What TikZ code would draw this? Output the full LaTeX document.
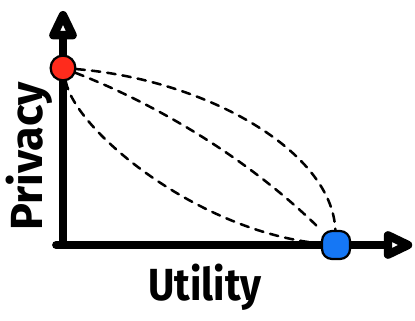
\documentclass[tikz,border=0pt]{standalone}
\usepackage{fontspec}
\setmainfont{Fira Sans}
\usepackage{tikz}
\usetikzlibrary{arrows.meta}
\definecolor{dotred}{HTML}{FF2B1C}
\definecolor{dotblue}{HTML}{1577F5}

\begin{document}
\begin{tikzpicture}[
  lbl/.style={font=\fontsize{32}{32}\selectfont\bfseries, inner sep=0pt},
  axis/.style={draw=black, line width=5.5pt, line cap=round, line join=round},
  axishead/.style={draw=black, line width=6pt, line join=round, fill=white},
  reddot/.style={circle, draw=black, line width=1.6pt, fill=dotred, minimum size=6.2mm, inner sep=0pt},
  bluedot/.style={rectangle, rounded corners=2.5mm, draw=black, line width=1.6pt, fill=dotblue, minimum size=7mm, inner sep=0pt},
  frontier/.style={draw=black, line width=1.8pt, dash pattern=on 6pt off 5pt, line cap=round}
]
\useasboundingbox (0,0) rectangle (10.375,8);

\coordinate (orig) at (1.575,1.875);
\coordinate (ybase) at (1.575,7.12);
\coordinate (xbase) at (9.70,1.875);
\coordinate (xstart) at (1.4,1.875);
\draw[axis] (orig) -- (ybase);
\draw[axis] (xstart) -- (xbase);
\draw[axishead] (ybase) -- ++(0.24,0) -- ++(-0.24,0.5) -- ++(-0.24,-0.5) -- cycle;
\draw[axishead] (xbase) -- ++(0,0.24) -- ++(0.5,-0.24) -- ++(-0.5,-0.24) -- cycle;

\node[reddot] (priv) at (1.575, 6.30) {};
\node[bluedot] (util) at (8.40, 1.875) {};

\draw[frontier] (priv) .. controls (5.2,6.0) and (8.3,4.2) .. (util);
\draw[frontier] (priv) .. controls (4.16,5.30) and (6.44,3.83) .. (util);
\draw[frontier] (priv) .. controls (1.9,4.7) and (5.0,2.2) .. (util);

\node[lbl, rotate=90] (ylab) at (0.72, 4.10) {Privacy};
\node[lbl, xscale=0.9] (xlab) at (5.125, 0.82) {Utility};

\end{tikzpicture}
\end{document}
